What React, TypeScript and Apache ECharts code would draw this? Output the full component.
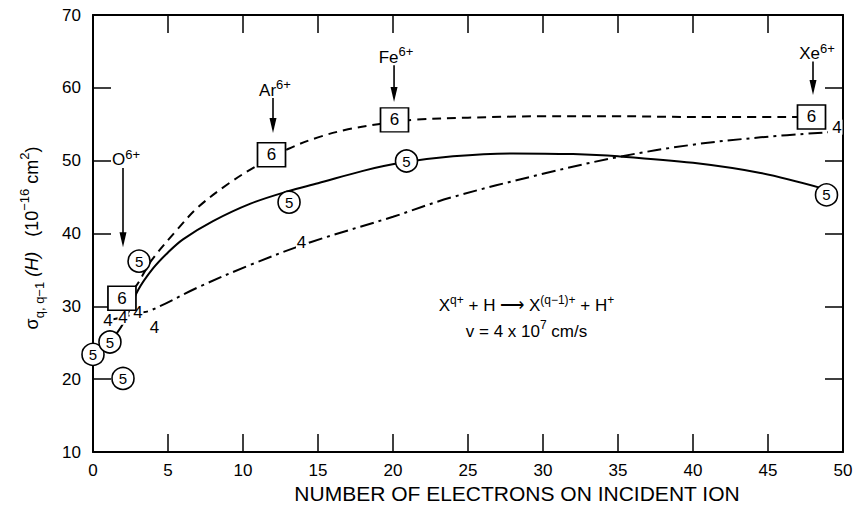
import React, { useEffect, useRef } from 'react';
import * as echarts from 'echarts';

const FONT = '"Liberation Sans", Arial, Helvetica, sans-serif';

// ---------------- data ----------------
// curves (x = number of electrons, y = cross section in 1e-16 cm^2)
const solidCurve: [number, number][] = [
  [1.13, 25.1], [2, 27.6], [3, 32.2], [4, 35.2], [5, 37.4], [6, 39.2], [8, 41.7],
  [10.5, 44.1], [13, 45.8], [15, 46.9], [18, 48.6], [20.5, 49.7], [24, 50.6],
  [28, 51.0], [32, 50.9], [35, 50.6], [40, 49.7], [44.5, 48.3], [48.6, 46.2],
];
const dashedCurve: [number, number][] = [
  [1.93, 31.1], [2.8, 32.6], [3.9, 36.3], [5.6, 40.5], [7, 43.6], [9, 46.8],
  [11, 49.4], [13, 51.6], [15, 53.2], [17, 54.3], [19, 55.0], [21.3, 55.6],
  [25, 55.9], [30, 56.1], [35, 56.1], [40, 56.0], [47.9, 56.0],
];
const dashDotCurve: [number, number][] = [
  [1.0, 28.1], [2.0, 28.5], [3.0, 29.1], [3.8, 29.4], [7.1, 32.7], [10.5, 35.7],
  [14.5, 38.8], [20, 42.3], [23.8, 44.9], [30, 48.2], [35, 50.5], [40, 52.2],
  [44.5, 53.2], [49, 53.9],
];
// measured points, labelled by final charge state
const circlePoints: [number, number][] = [
  [0, 23.4], [1.13, 25.1], [2.0, 20.1], [3.07, 36.2], [13.07, 44.3], [20.9, 49.95], [48.9, 45.3],
];
const squarePoints: [number, number][] = [
  [1.93, 31.1], [11.9, 50.8], [20.1, 55.6], [47.9, 56.0],
];
const fourPoints: [number, number][] = [
  [1.0, 28.1], [2.0, 28.5], [3.0, 29.1], [4.1, 27.1], [13.9, 38.8], [49.6, 54.6],
];
const circleLabel = '5';
const squareLabel = '6';
const fourLabel = '4';

// ion annotations (arrows), in data units
const ionNames = ['O', 'Ar', 'Fe', 'Xe'];
const ionX = [2.0, 12.0, 20.07, 48.0];
const arrowStartY = [49.0, 58.6, 63.1, 63.6];
const arrowEndY = [38.1, 53.8, 58.05, 59.0];
const ionLabelDx = [3, 2, 2, 4];

const xAxisTitle = 'NUMBER OF ELECTRONS ON INCIDENT ION';
const reactionLine1 = 'X{sup|q+} + H \u27F6 X{sup|(q\u22121)+} + H{sup|+}';
const reactionLine2 = 'v = 4 x 10{sup|7} cm/s';
const yAxisTitle = '\u03C3{sub|q, q\u22121} {it|(H)}   (10{sup|\u221216} cm{sup|2})';

export default function App() {
  const ref = useRef<HTMLDivElement>(null);

  useEffect(() => {
    const chart = echarts.init(ref.current!, null, { renderer: 'svg' });
    const axisLine = { show: true, onZero: false, lineStyle: { color: '#000', width: 2 } };
    const tick = { show: true, inside: true, length: 18, lineStyle: { color: '#000', width: 1.5 } };
    const labelBase = { color: '#000', fontSize: 17, fontFamily: FONT };

    const lineSeries = (data: [number, number][], type: any, z: number) => ({
      type: 'line',
      data,
      smooth: 0.35,
      showSymbol: false,
      symbol: 'none',
      silent: true,
      z,
      lineStyle: { color: '#000', width: 2, type },
    });

    chart.setOption({
      animation: false,
      backgroundColor: '#fff',
      grid: { left: 93, right: 14, top: 15, bottom: 56 },
      xAxis: [
        {
          type: 'value', min: 0, max: 50, interval: 5, position: 'bottom',
          axisLine, axisTick: tick, splitLine: { show: false },
          axisLabel: { ...labelBase, margin: 10 },
        },
        {
          type: 'value', min: 0, max: 50, interval: 5, position: 'top',
          axisLine, axisTick: tick, splitLine: { show: false }, axisLabel: { show: false },
        },
      ],
      yAxis: [
        {
          type: 'value', min: 10, max: 70, interval: 10, position: 'left',
          axisLine, axisTick: tick, splitLine: { show: false },
          axisLabel: { ...labelBase, margin: 12 },
        },
        {
          type: 'value', min: 10, max: 70, interval: 10, position: 'right',
          axisLine, axisTick: tick, splitLine: { show: false }, axisLabel: { show: false },
        },
      ],
      series: [
        lineSeries(solidCurve, 'solid', 2),
        lineSeries(dashedCurve, [9, 6], 2),
        lineSeries(dashDotCurve, [14, 5, 3, 5], 2),
        {
          type: 'scatter', data: fourPoints, symbol: 'rect', symbolSize: [11, 15], clip: false, z: 3,
          silent: true,
          itemStyle: { color: '#fff', borderWidth: 0, opacity: 1 },
          label: { show: true, position: 'inside', formatter: fourLabel, ...labelBase },
        },
        {
          type: 'scatter', data: squarePoints, symbol: 'rect', symbolSize: [28, 24], clip: false, z: 4,
          silent: true,
          itemStyle: { color: '#fff', borderColor: '#000', borderWidth: 1.6, opacity: 1 },
          label: { show: true, position: 'inside', formatter: squareLabel, ...labelBase },
        },
        {
          type: 'scatter', data: circlePoints, symbol: 'circle', symbolSize: 22, clip: false, z: 5,
          silent: true,
          itemStyle: { color: '#fff', borderColor: '#000', borderWidth: 1.6, opacity: 1 },
          label: { show: true, position: 'inside', formatter: circleLabel, ...labelBase, fontSize: 15 },
        },
      ],
    });

    const px = (x: number, y: number) =>
      chart.convertToPixel({ xAxisIndex: 0, yAxisIndex: 0 }, [x, y]) as number[];

    const graphics: any[] = [];
    ionNames.forEach((name, i) => {
      const [ax, ay0] = px(ionX[i], arrowStartY[i]);
      const [, ay1] = px(ionX[i], arrowEndY[i]);
      graphics.push({
        type: 'line', silent: true, z: 10,
        shape: { x1: ax, y1: ay0, x2: ax, y2: ay1 - 10 },
        style: { stroke: '#000', lineWidth: 1.6 },
      });
      graphics.push({
        type: 'polygon', silent: true, z: 10,
        shape: { points: [[ax - 3.5, ay1 - 15], [ax + 3.5, ay1 - 15], [ax, ay1]] },
        style: { fill: '#000' },
      });
      graphics.push({
        type: 'text', silent: true, z: 10,
        x: ax + ionLabelDx[i], y: ay0 + 4,
        style: {
          text: name + '{sup|6+}',
          fill: '#000', font: `17px ${FONT}`, lineHeight: 24,
          align: 'center', verticalAlign: 'bottom',
          rich: { sup: { fontSize: 13, fontFamily: FONT, verticalAlign: 'top', lineHeight: 13, fill: '#000' } },
        },
      });
    });

    // reaction text
    const [rx, ry] = px(28.9, 30.1);
    graphics.push({
      type: 'text', silent: true, z: 10, x: rx, y: ry,
      style: {
        text: reactionLine1, fill: '#000', font: `17px ${FONT}`, lineHeight: 24,
        align: 'center', verticalAlign: 'middle',
        rich: { sup: { fontSize: 12, fontFamily: FONT, verticalAlign: 'top', lineHeight: 12, fill: '#000' } },
      },
    });
    const [rx2, ry2] = px(28.9, 26.6);
    graphics.push({
      type: 'text', silent: true, z: 10, x: rx2, y: ry2,
      style: {
        text: reactionLine2, fill: '#000', font: `17px ${FONT}`, lineHeight: 24,
        align: 'center', verticalAlign: 'middle',
        rich: { sup: { fontSize: 12, fontFamily: FONT, verticalAlign: 'top', lineHeight: 12, fill: '#000' } },
      },
    });

    // axis titles
    graphics.push({
      type: 'text', silent: true, x: 517, y: 493,
      style: {
        text: xAxisTitle, fill: '#000', font: `21px ${FONT}`,
        align: 'center', verticalAlign: 'middle',
      },
    });
    graphics.push({
      type: 'text', silent: true, x: 32, y: 238, rotation: Math.PI / 2,
      style: {
        text: yAxisTitle, fill: '#000', font: `18px ${FONT}`, lineHeight: 28,
        align: 'center', verticalAlign: 'middle',
        rich: {
          sub: { fontSize: 13, fontFamily: FONT, verticalAlign: 'bottom', lineHeight: 14, fill: '#000' },
          sup: { fontSize: 13, fontFamily: FONT, verticalAlign: 'top', lineHeight: 14, fill: '#000' },
          it: { fontSize: 18, fontFamily: FONT, fontStyle: 'italic', lineHeight: 28, fill: '#000' },
        },
      },
    });

    chart.setOption({ graphic: graphics });

    return () => chart.dispose();
  }, []);

  return (
    <div
      ref={ref}
      style={{ position: 'fixed', left: 0, top: 0, width: 857, height: 508, background: '#fff' }}
    />
  );
}
